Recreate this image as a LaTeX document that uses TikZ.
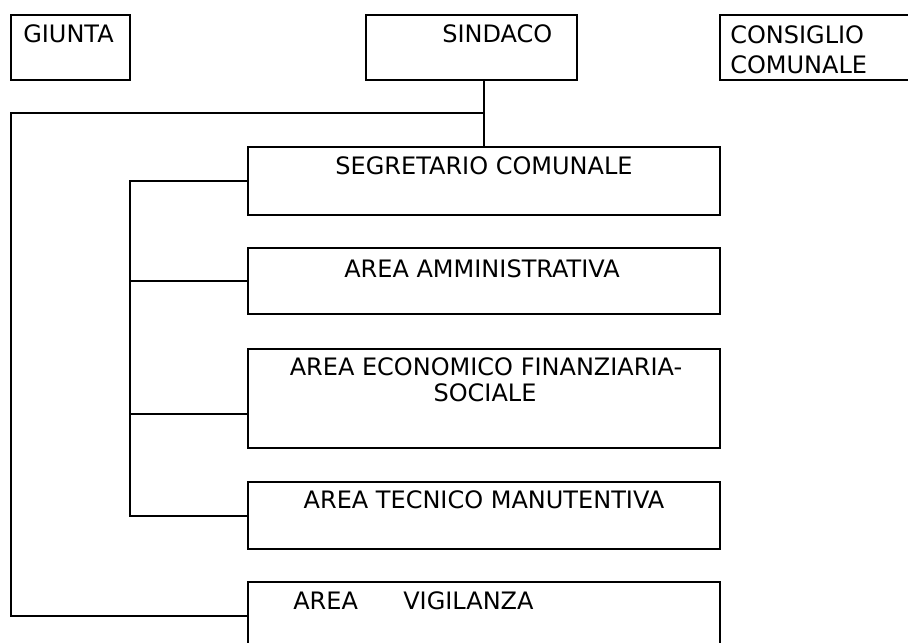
\documentclass[tikz,border=0pt]{standalone}
\usepackage{fontspec}
\setmainfont{DejaVu Sans}
\usetikzlibrary{fit}
\begin{document}
\begin{tikzpicture}[x=0.75pt,y=-0.75pt,
  box/.style={draw=black, line width=1.5pt, inner sep=0pt, fill=none},
  conn/.style={draw=black, line width=1.5pt},
  lbl/.style={inner sep=0pt, font=\fontsize{18}{21}\selectfont, text=black}]
\useasboundingbox (0,0) rectangle (908,643);
% boxes
\node[box, fit={(11,15) (130,80)}] (giunta) {};
\node[box, fit={(366,15) (577,80)}] (sindaco) {};
\node[box, fit={(720,15) (912,80)}] (consiglio) {};
\node[box, fit={(248,147) (720,215)}] (seg) {};
\node[box, fit={(248,248) (720,314)}] (amm) {};
\node[box, fit={(248,349) (720,448)}] (econ) {};
\node[box, fit={(248,482) (720,549)}] (tec) {};
\node[box, fit={(248,582) (720,650)}] (vig) {};
% texts
\node[lbl, anchor=base west] (tgiunta) at (23,42) {GIUNTA};
\node[lbl, anchor=base west] (tsindaco) at (442,42) {SINDACO};
\node[lbl, anchor=base west] (tcons1) at (730,43) {CONSIGLIO};
\node[lbl, anchor=base west] (tcons2) at (730,73) {COMUNALE};
\node[lbl, anchor=base] (tseg) at (484,174) {SEGRETARIO COMUNALE};
\node[lbl, anchor=base] (tamm) at (482,277) {AREA AMMINISTRATIVA};
\node[lbl, anchor=base] (tecon1) at (486,375) {AREA ECONOMICO FINANZIARIA-};
\node[lbl, anchor=base] (tecon2) at (485,401) {SOCIALE};
\node[lbl, anchor=base] (ttec) at (484,508) {AREA TECNICO MANUTENTIVA};
\node[lbl, anchor=base west] (tvig) at (293,609) {AREA\hspace{34pt}VIGILANZA};
% connectors
\coordinate (j1) at (484,113);
\coordinate (oc) at (11,113);
\coordinate (it) at (130,181);
\coordinate (econin) at (248,414);
\draw[conn] (sindaco.south -| j1) -- (j1) -- (seg.north -| j1);
\draw[conn] (j1) -- (oc) |- (vig.west);
\draw[conn] (seg.west) -- (it) |- (tec.west);
\draw[conn] (it |- amm.west) -- (amm.west);
\draw[conn] (it |- econin) -- (econin);
\end{tikzpicture}
\end{document}
